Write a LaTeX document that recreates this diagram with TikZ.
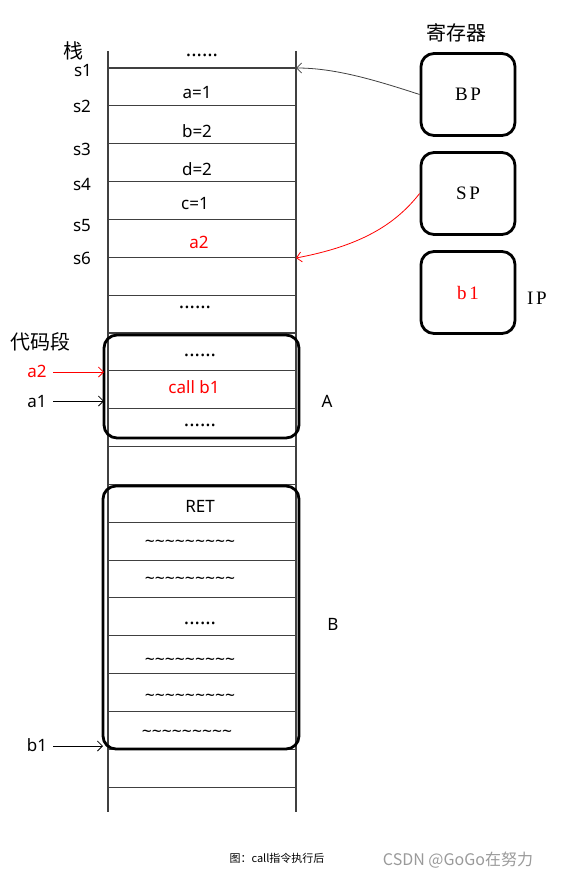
\documentclass[tikz,border=0pt]{standalone}
\usepackage{fontspec}
\setmainfont{Noto Sans}
\newfontfamily\cjk{Noto Sans CJK SC}
\newfontfamily\regf[LetterSpace=14]{Liberation Serif}
\usetikzlibrary{arrows.meta}
\definecolor{linegray}{HTML}{404040}
\definecolor{wm}{HTML}{9A9A9A}
\tikzset{
  stackline/.style={draw=linegray, line width=1.1pt},
  txt/.style={anchor=base, inner sep=0pt, font=\fontsize{17}{17}\selectfont},
  dots/.style={anchor=base, inner sep=0pt, font=\fontsize{20}{20}\selectfont},
  tild/.style={anchor=base, inner sep=0pt, font=\fontsize{17.5}{17}\selectfont},
  lbl/.style={anchor=base, inner sep=0pt, font=\fontsize{17}{17}\selectfont},
  cjklbl/.style={inner sep=0pt, font=\cjk\fontsize{20}{20}\selectfont},
  reg/.style={draw, line width=2.8pt, rounded corners=13pt, minimum width=94pt, minimum height=82pt, inner sep=0pt, font=\regf\fontsize{19}{19}\selectfont},
  codebox/.style={draw, line width=2.8pt, rounded corners=13pt, inner sep=0pt},
  ptr/.style={line width=0.8pt, -{Straight Barb[length=5pt,width=10pt]}},
}
\begin{document}
\begin{tikzpicture}[x=1pt,y=-1pt]
\useasboundingbox (0,0) rectangle (560,880);
% stack verticals
\draw[stackline] (108,51) -- (108,812);
\draw[stackline] (296,51) -- (296,812);
% horizontal lines
\foreach \k in {0,...,19} {
  \draw[stackline] (108,{68+37.85*\k}) -- (296,{68+37.85*\k});
}
\coordinate (s1r) at (296,68);
\coordinate (s6r) at (296,258);
\coordinate (pa2) at (104,372);
\coordinate (pa1) at (104,401);
\coordinate (pb1) at (103,746);
% stack contents
\node[dots] (t0) at (202,57) {......};
\node[txt] (t1) at (197,99) {a=1};
\node[txt] (t2) at (197,137) {b=2};
\node[txt] (t3) at (197,175) {d=2};
\node[txt] (t4) at (195,209) {c=1};
\node[txt, text=red] (t5) at (199,248) {a2};
\node[dots] (t6) at (195,308) {......};
\node[dots] (t7) at (200,356) {......};
\node[txt, text=red] (t8) at (194,393) {call b1};
\node[dots] (t9) at (200,426) {......};
\node[txt] (t10) at (200,512) {RET};
\node[tild] (t11) at (190,547) {\textasciitilde\textasciitilde\textasciitilde\textasciitilde\textasciitilde\textasciitilde\textasciitilde\textasciitilde\textasciitilde};
\node[tild] (t12) at (190,584) {\textasciitilde\textasciitilde\textasciitilde\textasciitilde\textasciitilde\textasciitilde\textasciitilde\textasciitilde\textasciitilde};
\node[dots] (t13) at (200,624) {......};
\node[tild] (t14) at (190,665) {\textasciitilde\textasciitilde\textasciitilde\textasciitilde\textasciitilde\textasciitilde\textasciitilde\textasciitilde\textasciitilde};
\node[tild] (t15) at (190,701) {\textasciitilde\textasciitilde\textasciitilde\textasciitilde\textasciitilde\textasciitilde\textasciitilde\textasciitilde\textasciitilde};
\node[tild] (t16) at (187,737) {\textasciitilde\textasciitilde\textasciitilde\textasciitilde\textasciitilde\textasciitilde\textasciitilde\textasciitilde\textasciitilde};
% code boxes
\node[codebox, minimum width=195pt, minimum height=103pt] (A) at (201.5,386.5) {};
\node[codebox, minimum width=196pt, minimum height=263pt] (B) at (201,617.5) {};
% left labels
\node[cjklbl] (zhan) at (73,51) {栈};
\node[lbl] (s1) at (83,77) {s1};
\node[lbl] (s2) at (82,113) {s2};
\node[lbl] (s3) at (82,155) {s3};
\node[lbl] (s4) at (82,190) {s4};
\node[lbl] (s5) at (82,231) {s5};
\node[lbl] (s6) at (82,264) {s6};
\node[cjklbl] (dmd) at (40,342) {代码段};
\node[lbl, text=red] (la2) at (37,377) {a2};
\node[lbl] (la1) at (37,407) {a1};
\node[lbl] (lb1) at (37,751) {b1};
\node[lbl] (lA) at (327,407) {A};
\node[lbl] (lB) at (333,630) {B};
\draw[ptr, red] (53,372) -- (pa2);
\draw[ptr] (53,401) -- (pa1);
\draw[ptr] (53,746) -- (pb1);
% registers
\node[cjklbl] (jcq) at (456,33) {寄存器};
\node[reg] (BP) at (468,94.5) {BP};
\node[reg] (SP) at (468,193.5) {SP};
\node[reg, text=red] (IPb) at (468,292.5) {b1};
\node[anchor=base, inner sep=0pt, font=\regf\fontsize{19}{19}\selectfont] (IP) at (537,304) {IP};
\draw[ptr, draw=linegray] (BP.west) .. controls (375,80) and (335,68) .. (s1r);
\draw[ptr, red] (SP.west) .. controls (395,225) and (360,246) .. (s6r);
% caption
\node[inner sep=0pt, font=\cjk\fontsize{11}{11}\selectfont] (cap) at (277,858) {图：call指令执行后};
\node[inner sep=0pt, text=wm, font=\cjk\fontsize{16}{16}\selectfont] (wmk) at (458,860) {CSDN @GoGo在努力};
\end{tikzpicture}
\end{document}
